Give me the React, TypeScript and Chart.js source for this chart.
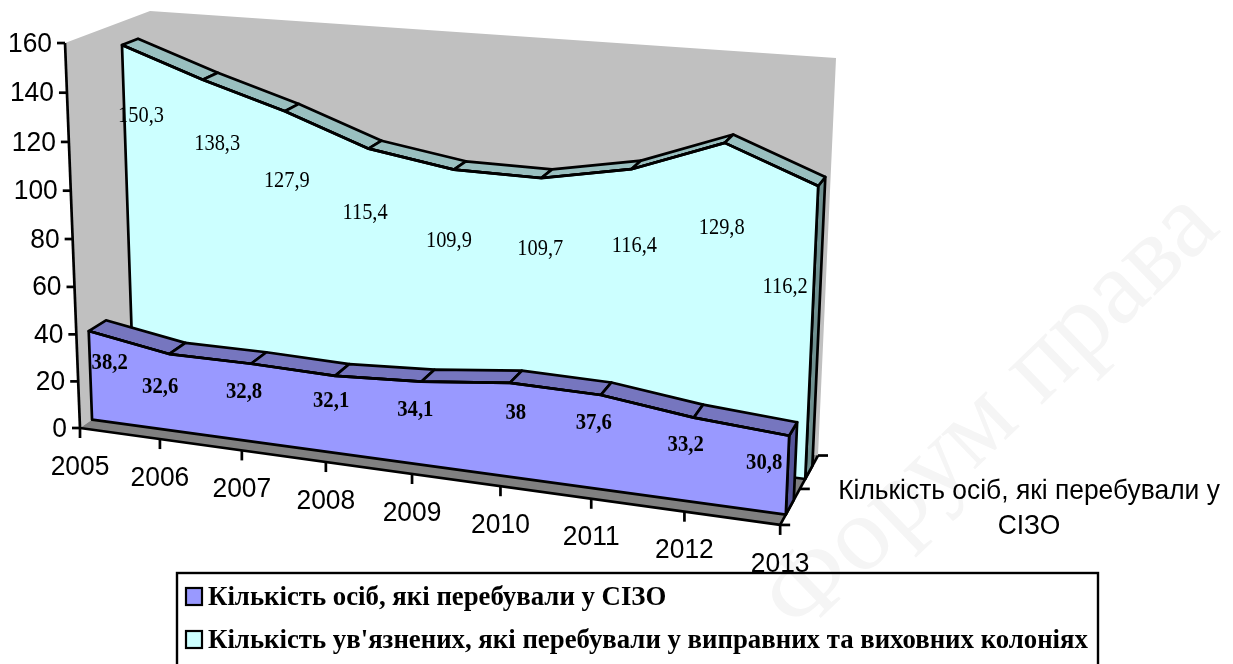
import React, { useEffect, useRef } from "react";
import { Chart, registerables } from "chart.js";

Chart.register(...registerables);

const years = ["2005", "2006", "2007", "2008", "2009", "2010", "2011", "2012", "2013"];
const detentionValues = [38.2, 32.6, 32.8, 32.1, 34.1, 38, 37.6, 33.2, 30.8];
const colonyValues = [150.3, 138.3, 127.9, 115.4, 109.9, 109.7, 116.4, 129.8, 116.2];
const detentionName = "Кількість осіб, які перебували у СІЗО";
const colonyName = "Кількість ув'язнених, які перебували у виправних та виховних колоніях";
const depthLabelLines = ["Кількість осіб, які перебували у", "СІЗО"];
const watermark = "Форум права";
const depthTicks = [0, 0.5, 1];

// Offset of each value label from its projected data point (px).
const detentionLabelOffsets = [[21, 32], [-9, 33], [-7, 28], [-4, 25], [-6, 28], [6, 30], [-7, 28], [-8, 27], [-25, 27]];
const colonyLabelOffsets = [[19, 71], [14.5, 63.5], [2, 69.5], [-3.5, 63.7], [-5, 71], [-1, 71], [3, 77], [-3, 85], [-33, 101]];

// Projection of the 3-D box: u along the years, t up the values, d into the depth.
const cam = {
  x0: 80, xu: 623.7, xt: -17.3, xd: 92.7, xut: 5,
  y0: 428, yu: 45.5, yt: -386.5, yd: -30, yut: -2.6,
  wu: -0.098, wt: -0.0357, wd: 0.0716,
};
function project(u: number, t: number, d: number): [number, number] {
  const w = 1 + cam.wu * u + cam.wt * t + cam.wd * d;
  return [
    (cam.x0 + cam.xu * u + cam.xt * t + cam.xd * d + cam.xut * u * t) / w,
    (cam.y0 + cam.yu * u + cam.yt * t + cam.yd * d + cam.yut * u * t) / w,
  ];
}

const seriesStyle = [
  { front: 0.14, back: 0.343, face: "#9999FF", top: "#7676BF", side: "#55559A", bold: true, offsets: detentionLabelOffsets },
  { front: 0.645, back: 0.841, face: "#CCFFFF", top: "#99BFBF", side: "#6F9090", bold: false, offsets: colonyLabelOffsets },
];

const SANS = '"Liberation Sans", Arial, sans-serif';
const SERIF = '"Liberation Serif", "Times New Roman", serif';
const AXIS_FONT = `27.5px ${SANS}`;
const AXIS_SQUEEZE = 0.96;
const LINE = 2.7;

function poly(ctx: CanvasRenderingContext2D, pts: [number, number][], fill?: string, stroke = false) {
  ctx.beginPath();
  pts.forEach((p, i) => (i ? ctx.lineTo(p[0], p[1]) : ctx.moveTo(p[0], p[1])));
  ctx.closePath();
  if (fill) {
    ctx.fillStyle = fill;
    ctx.fill();
  }
  if (stroke) {
    ctx.strokeStyle = "#000";
    ctx.lineWidth = LINE;
    ctx.lineJoin = "round";
    ctx.stroke();
  }
}
function seg(ctx: CanvasRenderingContext2D, a: [number, number], b: [number, number]) {
  ctx.beginPath();
  ctx.moveTo(a[0], a[1]);
  ctx.lineTo(b[0], b[1]);
  ctx.strokeStyle = "#000";
  ctx.lineWidth = LINE;
  ctx.stroke();
}
function text(ctx: CanvasRenderingContext2D, s: string, x: number, y: number, sx: number) {
  ctx.save();
  ctx.translate(x, y);
  ctx.scale(sx, 1);
  ctx.fillStyle = "#000";
  ctx.fillText(s, 0, 0);
  ctx.restore();
}

const decU = (chart: any, i: number) => chart.scales.x.getDecimalForPixel(chart.scales.x.getPixelForValue(i));
const decT = (chart: any, v: number) => chart.scales.y.getDecimalForPixel(chart.scales.y.getPixelForValue(v));

const box3d = {
  id: "box3d",
  afterDatasetsUpdate(chart: any) {
    chart.data.datasets.forEach((ds: any, k: number) => {
      const meta = chart.getDatasetMeta(k);
      meta.data.forEach((pt: any, i: number) => {
        const [x, y] = project(decU(chart, i), decT(chart, ds.data[i]), seriesStyle[k].front);
        pt.x = x;
        pt.y = y;
      });
    });
  },
  beforeDraw(chart: any) {
    const ctx: CanvasRenderingContext2D = chart.ctx;
    ctx.save();
    // watermark
    ctx.save();
    ctx.translate(992, 414);
    ctx.rotate((-44 * Math.PI) / 180);
    ctx.font = `106px ${SERIF}`;
    ctx.fillStyle = "#F5F5F5";
    ctx.textAlign = "center";
    ctx.textBaseline = "middle";
    ctx.fillText(watermark, 0, 0);
    ctx.restore();

    // walls and floor
    poly(ctx, [project(0, 0, 0), project(0, 1, 0), project(0, 1, 1), project(1, 1, 1), project(1, 0, 1), project(0, 0, 1)], "#C0C0C0");
    poly(ctx, [project(0, 0, 0), project(1, 0, 0), project(1, 0, 1), project(0, 0, 1)], "#808080");

    // value axis
    seg(ctx, project(0, 0, 0), project(0, 1, 0));
    ctx.font = AXIS_FONT;
    ctx.textAlign = "right";
    ctx.textBaseline = "middle";
    chart.scales.y.ticks.forEach((tick: any) => {
      const [x, y] = project(0, decT(chart, tick.value), 0);
      seg(ctx, [x - 8, y], [x, y]);
      text(ctx, tick.label, x - 13, y + 1, AXIS_SQUEEZE);
    });

    // year axis
    seg(ctx, project(0, 0, 0), project(1, 0, 0));
    ctx.textAlign = "center";
    chart.scales.x.ticks.forEach((tick: any, i: number) => {
      const [x, y] = project(decU(chart, i), 0, 0);
      seg(ctx, [x, y], [x, y + 10]);
      text(ctx, tick.label, x, y + 39, AXIS_SQUEEZE);
    });

    // depth axis
    seg(ctx, project(1, 0, 0), project(1, 0, 1));
    depthTicks.forEach((d) => {
      const [x, y] = project(1, 0, d);
      seg(ctx, [x, y], [x + 10, y]);
    });
    text(ctx, depthLabelLines[0], 1029, 491, AXIS_SQUEEZE);
    text(ctx, depthLabelLines[1], 1029, 526, AXIS_SQUEEZE);
    ctx.restore();
  },
  beforeDatasetDraw(chart: any, args: any) {
    const k = args.index;
    const style = seriesStyle[k];
    const values: number[] = chart.data.datasets[k].data;
    const ctx: CanvasRenderingContext2D = chart.ctx;
    const n = values.length;
    const at = (i: number, v: number, d: number) => project(decU(chart, i), decT(chart, v), d);
    ctx.save();
    // right end cap
    poly(ctx, [at(n - 1, 0, style.front), at(n - 1, values[n - 1], style.front), at(n - 1, values[n - 1], style.back), at(n - 1, 0, style.back)], style.side, true);
    // top ribbon
    for (let i = 0; i < n - 1; i++) {
      poly(ctx, [at(i, values[i], style.front), at(i + 1, values[i + 1], style.front), at(i + 1, values[i + 1], style.back), at(i, values[i], style.back)], style.top, true);
    }
    // front face
    const outline: [number, number][] = values.map((v, i) => at(i, v, style.front));
    outline.push(at(n - 1, 0, style.front), at(0, 0, style.front));
    poly(ctx, outline, style.face, true);
    ctx.restore();
  },
  afterDatasetsDraw(chart: any) {
    const ctx: CanvasRenderingContext2D = chart.ctx;
    ctx.save();
    ctx.textAlign = "center";
    ctx.textBaseline = "middle";
    [1, 0].forEach((k) => {
      const style = seriesStyle[k];
      ctx.font = `${style.bold ? "bold " : ""}${style.bold ? 23 : 24}px ${SERIF}`;
      chart.data.datasets[k].data.forEach((v: number, i: number) => {
        const pt = chart.getDatasetMeta(k).data[i];
        text(ctx, String(v).replace(".", ","), pt.x + style.offsets[i][0], pt.y + style.offsets[i][1], style.bold ? 0.9 : 0.85);
      });
    });
    // legend
    ctx.strokeStyle = "#000";
    ctx.lineWidth = 2.4;
    ctx.strokeRect(177, 573, 921, 110);
    ctx.textAlign = "left";
    ctx.font = `bold 27px ${SERIF}`;
    chart.data.datasets.forEach((ds: any, k: number) => {
      const y = 597 + k * 43;
      ctx.fillStyle = seriesStyle[k].face;
      ctx.fillRect(186, y - 9, 16, 17);
      ctx.strokeStyle = "#000";
      ctx.lineWidth = 2.2;
      ctx.strokeRect(186, y - 9, 16, 17);
      text(ctx, ds.label, 208, y + 1, 0.992);
    });
    ctx.restore();
  },
};

export default function App() {
  const ref = useRef<HTMLCanvasElement>(null);
  useEffect(() => {
    document.body.style.margin = "0";
    document.body.style.overflow = "hidden";
    const chart = new Chart(ref.current!, {
      type: "line",
      plugins: [box3d],
      data: {
        labels: years,
        datasets: [
          { label: detentionName, data: detentionValues, borderColor: "#000", borderWidth: LINE, pointRadius: 0, fill: false, tension: 0, clip: false },
          { label: colonyName, data: colonyValues, borderColor: "#000", borderWidth: LINE, pointRadius: 0, fill: false, tension: 0, clip: false },
        ],
      } as any,
      options: {
        animation: false,
        responsive: false,
        layout: { padding: 0 },
        plugins: { legend: { display: false }, tooltip: { enabled: false } },
        scales: {
          x: { display: false, offset: false, ticks: { autoSkip: false } },
          y: { display: false, min: 0, max: 160, ticks: { stepSize: 20 } },
        },
      },
    } as any);
    return () => chart.destroy();
  }, []);
  return <canvas ref={ref} width={1233} height={664} style={{ display: "block", background: "#fff" }} />;
}
